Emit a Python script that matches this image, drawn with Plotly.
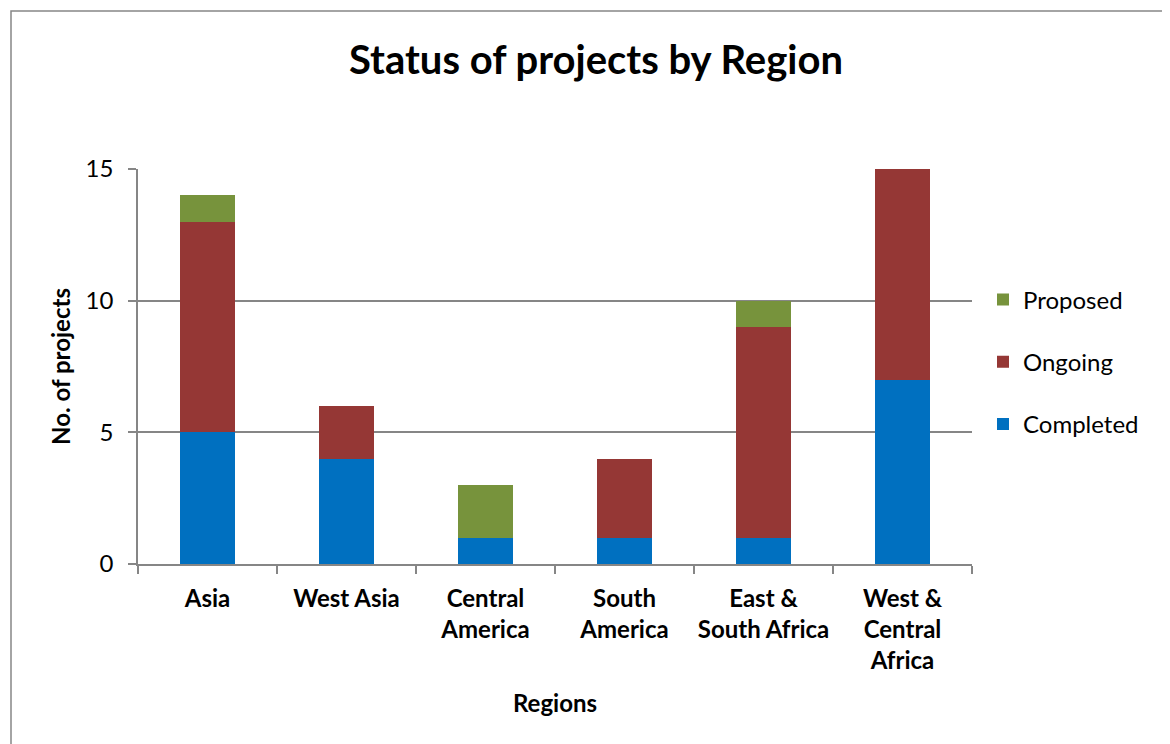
import plotly.graph_objects as go

regions = ["Asia", "West Asia", "Central<br>America", "South<br>America",
           "East &<br>South Africa", "West &<br>Central<br>Africa"]
completed = [5, 4, 1, 1, 1, 7]
ongoing = [8, 2, 0, 3, 8, 8]
proposed = [1, 0, 2, 0, 1, 0]

series = [("Completed", completed, "#0070C0", 3),
          ("Ongoing", ongoing, "#953735", 2),
          ("Proposed", proposed, "#77933C", 1)]

FONT = "Lato, Carlito, Calibri, sans-serif"
OFF = 8  # page body margin

fig = go.Figure()
for name, vals, col, rank in series:
    fig.add_trace(go.Bar(x=regions, y=vals, name=name, marker_color=col,
                         marker_line_width=0, legendgroup=name, legendrank=rank))

W, H = 1170 - OFF, 744 - OFF
L = 138 - OFF
T = 169 - OFF
R = W - (972 - OFF)
B = H - (564 - OFF)
pw, ph = W - L - R, H - T - B

def px(x):
    return (x - OFF - L) / pw

def py(y):
    return (H - B - (y - OFF)) / ph

fig.update_layout(
    width=W, height=H,
    margin=dict(l=L, r=R, t=T, b=B, autoexpand=False),
    barmode="stack", bargap=0.6,
    paper_bgcolor="white", plot_bgcolor="white",
    font=dict(family=FONT, size=24, color="black"),
    title=dict(text="<b>Status of projects by Region</b>", x=(596 - OFF) / W, xanchor="center",
               y=1 - (60 - OFF) / H, yanchor="middle", font=dict(size=40, family=FONT)),
    legend=dict(x=px(983), xanchor="left", y=py(362), yanchor="middle",
                tracegroupgap=28,
                font=dict(size=24, family=FONT), itemwidth=30),
    showlegend=True,
    shapes=[dict(type="rect", xref="paper", yref="paper",
                 x0=px(11), x1=px(1185), y0=py(760), y1=py(11),
                 line=dict(color="#868686", width=1.5), fillcolor="rgba(0,0,0,0)",
                 layer="below")],
)
fig.update_xaxes(
    showline=True, linecolor="#868686", linewidth=1.5,
    ticks="outside", ticklen=8, tickcolor="#868686", tickwidth=1.5,
    tickson="boundaries", ticklabelstandoff=12, tickangle=0, automargin=False,
    tickfont=dict(size=24, family=FONT),
    title=dict(text="<b>Regions</b>", font=dict(size=24, family=FONT), standoff=22),
    showgrid=False,
    ticktext=["<b>" + r + "</b>" for r in regions], tickvals=regions,
)
fig.update_yaxes(
    range=[0, 15], tickvals=[0, 5, 10, 15],
    showline=True, linecolor="#868686", linewidth=1.5,
    ticks="outside", ticklen=8, tickcolor="#868686", tickwidth=1.5,
    ticklabelstandoff=10, automargin=False,
    showgrid=True, gridcolor="#868686", gridwidth=1.5,
    tickfont=dict(size=24, family=FONT),
    title=dict(text="<b>No. of projects</b>", font=dict(size=24, family=FONT), standoff=8),
    zeroline=False,
)

fig.write_html("out.html")
